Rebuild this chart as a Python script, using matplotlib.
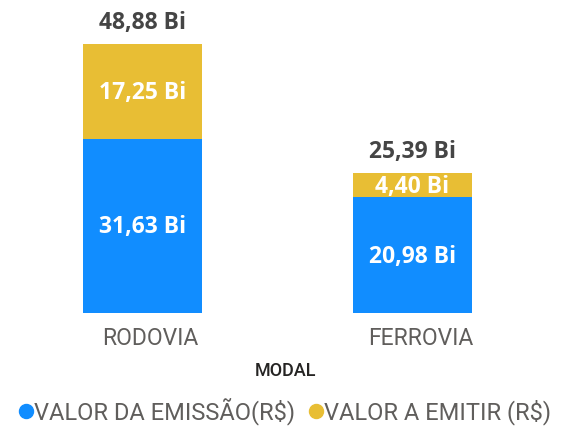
import matplotlib
matplotlib.use("Agg")
import matplotlib.pyplot as plt
from matplotlib.lines import Line2D

categories = ["RODOVIA", "FERROVIA"]
valor_emissao = [31.63, 20.98]
valor_a_emitir = [17.25, 4.40]
totais = [48.88, 25.39]
series_names = ["VALOR DA EMISSÃO(R$)", "VALOR A EMITIR (R$)"]
colors = ["#118DFF", "#E8BE34"]

def fmt(v):
    return f"{v:.2f}".replace(".", ",") + " Bi"

PX = 72 / 100  # points per pixel

fig = plt.figure(figsize=(5.64, 4.26), dpi=100)
ax = fig.add_axes([0, 1 - 313 / 426, 1, 313 / 426])
x = list(range(len(categories)))
w = 119 / 270
ax.bar(x, valor_emissao, width=w, color=colors[0])
ax.bar(x, valor_a_emitir, width=w, bottom=valor_emissao, color=colors[1])
ax.set_xlim(-142.5 / 270, (564 - 142.5) / 270)
ax.set_ylim(0, 313 / 5.51)
ax.axis("off")

bold_font = "Open Sans"
reg_font = "Roboto"
for i in x:
    b = valor_emissao[i]
    t = valor_a_emitir[i]
    ax.annotate(fmt(b), (i, b / 2), xytext=(0, -7.5 * PX), textcoords="offset points",
                ha="center", va="baseline", color="white",
                fontsize=16.5, fontweight="bold", family=bold_font)
    ax.annotate(fmt(t), (i, b + t / 2), xytext=(0, -7.5 * PX), textcoords="offset points",
                ha="center", va="baseline", color="white",
                fontsize=16.5, fontweight="bold", family=bold_font)
    ax.annotate(fmt(totais[i]), (i, b + t), xytext=(0, 15 * PX), textcoords="offset points",
                ha="center", va="baseline", color="#454545",
                fontsize=16.5, fontweight="bold", family=bold_font)
    ax.annotate(categories[i], (i, 0), xytext=(8 * PX, -32 * PX), textcoords="offset points",
                ha="center", va="baseline", color="#605E5C", fontsize=16.5, family=reg_font)

fig.text(286 / 564, 1 - 376 / 426, "MODAL", ha="center", va="baseline",
         color="#252423", fontsize=13, fontweight="medium", family=reg_font)

# legend
ly = 1 - 411 / 426
lb = 1 - 419 / 426
fig.add_artist(Line2D([26 / 564], [ly], marker="o", markersize=14 * PX, color=colors[0],
                      transform=fig.transFigure, linestyle="none"))
fig.text(34 / 564, lb, series_names[0], ha="left", va="baseline", color="#605E5C",
         fontsize=17, family=reg_font)
fig.add_artist(Line2D([316 / 564], [ly], marker="o", markersize=14 * PX, color=colors[1],
                      transform=fig.transFigure, linestyle="none"))
fig.text(324 / 564, lb, series_names[1], ha="left", va="baseline", color="#605E5C",
         fontsize=17, family=reg_font)

fig.savefig("out.png", dpi=100)
